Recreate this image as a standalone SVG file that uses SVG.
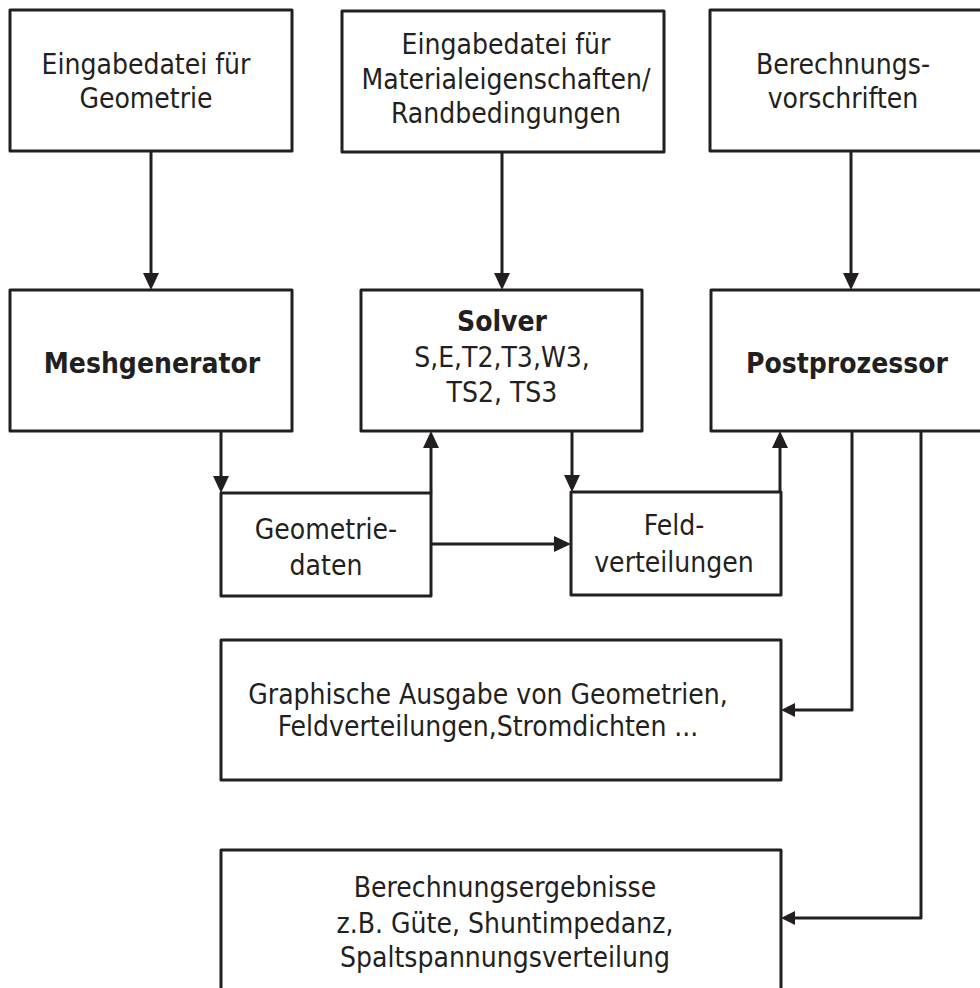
<svg xmlns="http://www.w3.org/2000/svg" width="980" height="988" viewBox="0 0 980 988">
<style>
.box{fill:#fff;stroke:#231f20;stroke-width:3;stroke-linejoin:round}
.t{font-family:"DejaVu Sans Condensed","DejaVu Sans","Liberation Sans",sans-serif;font-stretch:condensed;font-size:28px;fill:#231f20;text-anchor:middle}
.b{font-weight:bold;font-size:28px}
.c{fill:none;stroke:#231f20;stroke-width:3;stroke-linejoin:round}
</style>
<defs>
<marker id="ah" viewBox="0 0 17 16" refX="0" refY="8" markerWidth="17" markerHeight="16" markerUnits="userSpaceOnUse" orient="auto">
<path d="M0,0 L17,8 L0,16 z" fill="#231f20"/>
</marker>
<marker id="ahs" viewBox="0 0 14 14" refX="0" refY="7" markerWidth="14" markerHeight="14" markerUnits="userSpaceOnUse" orient="auto">
<path d="M0,0 L14,7 L0,14 z" fill="#231f20"/>
</marker>
</defs>
<rect width="980" height="988" fill="#fff"/>

<g id="connectors">
<path class="c" d="M151,151 V273" marker-end="url(#ah)"/>
<path class="c" d="M502,152 V273" marker-end="url(#ah)"/>
<path class="c" d="M851,151 V273" marker-end="url(#ah)"/>
<path class="c" d="M221,431 V476" marker-end="url(#ah)"/>
<path class="c" d="M431,493 V448" marker-end="url(#ah)"/>
<path class="c" d="M431,544 H554" marker-end="url(#ah)"/>
<path class="c" d="M572,431 V475" marker-end="url(#ah)"/>
<path class="c" d="M780,492 V448" marker-end="url(#ah)"/>
<path class="c" d="M852,431 V710 H795" marker-end="url(#ahs)"/>
<path class="c" d="M921,426 V918 H795" marker-end="url(#ahs)"/>
</g>

<g id="n1">
<rect class="box" x="10" y="10" width="282" height="141"/>
<text class="t" x="146" y="74">Eingabedatei für</text>
<text class="t" x="146" y="108">Geometrie</text>
</g>
<g id="n2">
<rect class="box" x="342" y="11" width="322" height="141"/>
<text class="t" x="506" y="54">Eingabedatei für</text>
<text class="t" x="506" y="89">Materialeigenschaften/</text>
<text class="t" x="506" y="123">Randbedingungen</text>
</g>
<g id="n3">
<rect class="box" x="710" y="10" width="290" height="141"/>
<text class="t" x="843" y="74">Berechnungs-</text>
<text class="t" x="843" y="108">vorschriften</text>
</g>
<g id="n4">
<rect class="box" x="10" y="290" width="282" height="141"/>
<text class="t b" x="152" y="373">Meshgenerator</text>
</g>
<g id="n5">
<rect class="box" x="361" y="290" width="281" height="141"/>
<text class="t b" x="502" y="331">Solver</text>
<text class="t" x="502" y="367">S,E,T2,T3,W3,</text>
<text class="t" x="502" y="402">TS2, TS3</text>
</g>
<g id="n6">
<rect class="box" x="711" y="290" width="290" height="141"/>
<text class="t b" x="847" y="373">Postprozessor</text>
</g>
<g id="n7">
<rect class="box" x="221" y="493" width="210" height="103"/>
<text class="t" x="326" y="539">Geometrie-</text>
<text class="t" x="326" y="575">daten</text>
</g>
<g id="n8">
<rect class="box" x="571" y="492" width="210" height="103"/>
<text class="t" x="674" y="535">Feld-</text>
<text class="t" x="674" y="572">verteilungen</text>
</g>
<g id="n9">
<rect class="box" x="221" y="640" width="560" height="140"/>
<text class="t" x="488" y="704">Graphische Ausgabe von Geometrien,</text>
<text class="t" x="488" y="736">Feldverteilungen,Stromdichten ...</text>
</g>
<g id="n10">
<rect class="box" x="221" y="850" width="560" height="160"/>
<text class="t" x="505" y="897">Berechnungsergebnisse</text>
<text class="t" x="505" y="933">z.B. Güte, Shuntimpedanz,</text>
<text class="t" x="505" y="967">Spaltspannungsverteilung</text>
</g>
</svg>
